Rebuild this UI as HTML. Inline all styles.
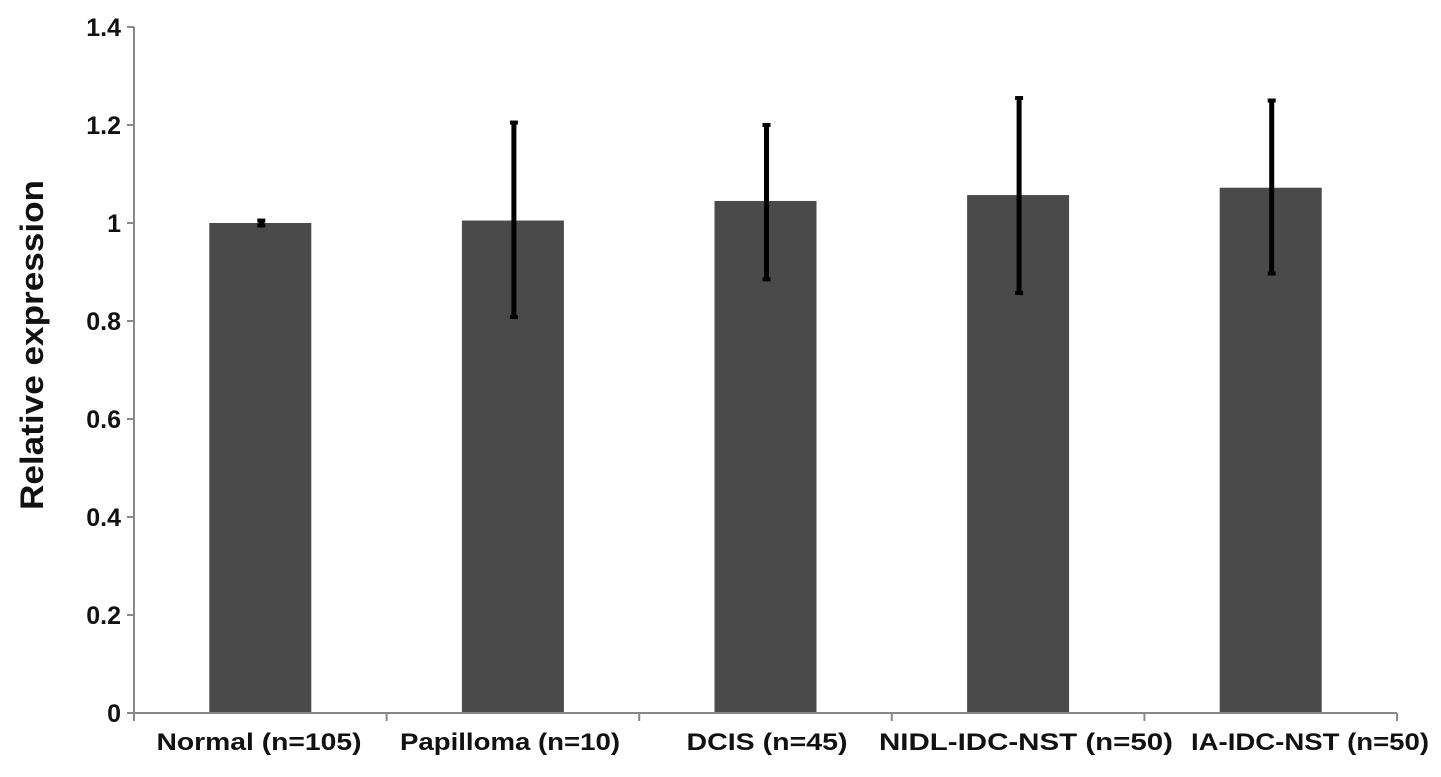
<!DOCTYPE html>
<html><head><meta charset="utf-8"><style>
html,body{margin:0;padding:0;background:#fff;}
svg{display:block;font-family:"Liberation Sans",sans-serif;}
</style></head><body>
<svg id="chart" width="1441" height="777"></svg>
<script>
const categories = ["Normal (n=105)","Papilloma (n=10)","DCIS (n=45)","NIDL-IDC-NST (n=50)","IA-IDC-NST  (n=50)"];
const values = [1.0, 1.005, 1.045, 1.057, 1.072];
const errUpper = [1.005, 1.205, 1.2, 1.255, 1.25];
const errLower = [0.995, 0.808, 0.885, 0.857, 0.897];
const yTicks = ["0","0.2","0.4","0.6","0.8","1","1.2","1.4"];

const NS="http://www.w3.org/2000/svg";
const svg=document.getElementById('chart');
const X0=134, X1=1397, Y0=713, Y1=27, YMAX=1.4;
const catW=(X1-X0)/categories.length;
const y=v=>Y0-(v/YMAX)*(Y0-Y1);
const xc=i=>X0+catW*(i+0.5);
const labelLen=[205,220,161,294,238];
const labelCx=[259,510,767,1026,1310];
function mk(t,a){const e=document.createElementNS(NS,t);for(const k in a)e.setAttribute(k,a[k]);svg.appendChild(e);return e;}

categories.forEach((c,i)=>{
  const b=mk('rect',{x:xc(i)-51,y:y(values[i]),width:102,height:Y0-y(values[i]),fill:'#4a4a4a'});
  
  
});
const ya=mk('line',{x1:X0,y1:Y1,x2:X0,y2:Y0,stroke:'#888','stroke-width':2});


const xa=mk('line',{x1:X0,y1:Y0,x2:X1,y2:Y0,stroke:'#888','stroke-width':2});


yTicks.forEach(t=>{
  const v=parseFloat(t);
  mk('line',{x1:X0-7,y1:y(v),x2:X0,y2:y(v),stroke:'#888','stroke-width':2});
  const tx=mk('text',{x:X0-13,y:y(v)+9,'text-anchor':'end','font-size':25,'font-weight':'bold',fill:'#111'});
  tx.textContent=t;
  
  
});
for(let i=0;i<=categories.length;i++){
  mk('line',{x1:X0+catW*i,y1:Y0,x2:X0+catW*i,y2:Y0+8,stroke:'#888','stroke-width':2});
}
categories.forEach((c,i)=>{
  const tx=mk('text',{x:labelCx[i]-labelLen[i]/2,y:Y0+37,'font-size':24,'font-weight':'bold',fill:'#111',textLength:labelLen[i],lengthAdjust:'spacingAndGlyphs','xml:space':'preserve'});
  tx.textContent=c;
  
  
});
categories.forEach((c,i)=>{
  const g=mk('g',{});
  
  
  const x=xc(i)+1;
  g.appendChild(mk('line',{x1:x,y1:y(errUpper[i]),x2:x,y2:y(errLower[i]),stroke:'#000','stroke-width':5}));
  g.appendChild(mk('line',{x1:x-4,y1:y(errUpper[i]),x2:x+4,y2:y(errUpper[i]),stroke:'#000','stroke-width':4}));
  g.appendChild(mk('line',{x1:x-4,y1:y(errLower[i]),x2:x+4,y2:y(errLower[i]),stroke:'#000','stroke-width':4}));
});
const yt=mk('text',{x:-180-330,y:0,transform:'translate(43,0) rotate(-90)','font-size':32,'font-weight':'bold',fill:'#111',textLength:330,lengthAdjust:'spacingAndGlyphs'});
yt.setAttribute('x',-510);
yt.setAttribute('y',0);
yt.textContent='Relative expression';


</script>
</body></html>
